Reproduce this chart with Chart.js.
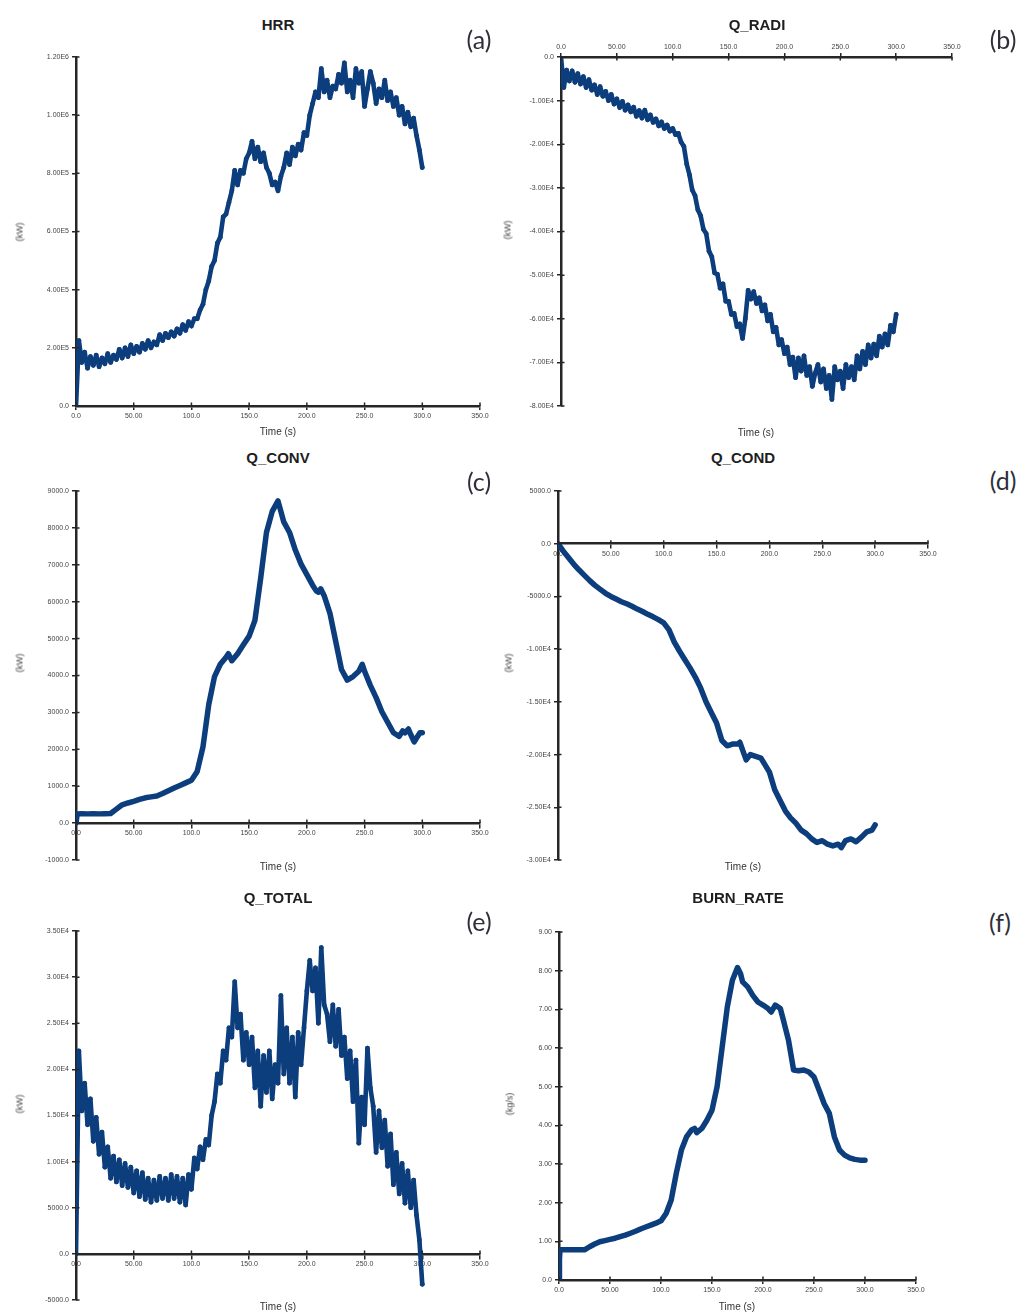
<!DOCTYPE html>
<html>
<head>
<meta charset="utf-8">
<title>Fire simulation outputs</title>
<script src="https://cdn.jsdelivr.net/npm/chart.js@4.4.1/dist/chart.umd.min.js"></script>
<style>
  html, body { margin: 0; padding: 0; background: #fff; }
  #sheet { position: relative; width: 1035px; height: 1313px; overflow: hidden; background: #fff;
           font-family: "Liberation Sans", Arial, sans-serif; }
  #sheet canvas { position: absolute; }
  .lbl { position: absolute; transform: translate(-50%, -50%); white-space: nowrap; line-height: 1; }
  .ttl { font-weight: bold; font-size: 15px; color: #1e1e1e; }
  .tag { font-family: Lato, "Open Sans", sans-serif; font-size: 25px; color: #2f2f3a; }
  .unit { font-size: 9px; color: #444; transform: translate(-50%, -50%) rotate(-90deg); }
  .xt { font-size: 10px; color: #333; }
</style>
</head>
<body>
<div id="sheet"></div>
<script>
// ---- sampled series (time in s) ----
const sampleTime = [0,2.5,5,7.5,10,12.5,15,17.5,20,22.5,25,27.5,30,32.5,35,37.5,40,42.5,45,47.5,
  50,52.5,55,57.5,60,62.5,65,67.5,70,72.5,75,77.5,80,82.5,85,87.5,90,92.5,95,97.5,
  100,102.5,105,107.5,110,112.5,115,117.5,120,122.5,125,127.5,130,132.5,135,137.5,140,142.5,145,147.5,
  150,152.5,155,157.5,160,162.5,165,167.5,170,172.5,175,177.5,180,182.5,185,187.5,190,192.5,195,197.5,
  200,202.5,205,207.5,210,212.5,215,217.5,220,222.5,225,227.5,230,232.5,235,237.5,240,242.5,245,247.5,
  250,252.5,255,257.5,260,262.5,265,267.5,270,272.5,275,277.5,280,282.5,285,287.5,290,292.5,295,297.5,300];

const hrrValues = [0,225000,150000,185000,130000,170000,140000,175000,135000,165000,
  145000,180000,150000,175000,160000,195000,165000,200000,170000,210000,
  180000,205000,185000,215000,195000,225000,200000,220000,210000,245000,
  225000,250000,235000,255000,240000,265000,250000,280000,260000,290000,
  275000,300000,300000,330000,350000,400000,430000,480000,500000,560000,
  580000,650000,660000,700000,740000,810000,760000,810000,800000,850000,
  870000,910000,850000,890000,840000,870000,820000,800000,760000,770000,
  740000,790000,820000,870000,830000,890000,860000,900000,880000,940000,
  930000,1000000,1040000,1080000,1060000,1160000,1080000,1120000,1060000,1100000,
  1090000,1140000,1110000,1180000,1080000,1120000,1060000,1160000,1110000,1150000,
  1030000,1090000,1150000,1110000,1040000,1090000,1060000,1120000,1050000,1080000,
  1030000,1060000,1000000,1030000,970000,1010000,960000,990000,930000,880000,
  820000];

const radiValues = [0,-7000,-3000,-5500,-3200,-5800,-3800,-6200,-4500,-7000,
  -5200,-7600,-6400,-8600,-6800,-9000,-7900,-10000,-8600,-10800,
  -9600,-11600,-10200,-12200,-11000,-12600,-11500,-13600,-12300,-14000,
  -12200,-14400,-13300,-15000,-14200,-15800,-14900,-16400,-15600,-17000,
  -16400,-17800,-17500,-19500,-20500,-24500,-27000,-30500,-31800,-35000,
  -36400,-39500,-40500,-44500,-45800,-49500,-49800,-53000,-52000,-56000,
  -56000,-59000,-58800,-61800,-61200,-64500,-60000,-53500,-55500,-53800,
  -56500,-55200,-58200,-56800,-60500,-59000,-63000,-62000,-66000,-64800,
  -68000,-66500,-70500,-68800,-73500,-69000,-72000,-68500,-73000,-71000,
  -75500,-72500,-70500,-74500,-71500,-76000,-73000,-78500,-71000,-74000,
  -72000,-76000,-70500,-73500,-71000,-74000,-68500,-71500,-67500,-70500,
  -66000,-69000,-65800,-68500,-64000,-66500,-63500,-66000,-61500,-63000,
  -59000];

const totalValues = [0,22000,15500,18500,14000,16800,12200,14800,10800,13200,
  9400,11600,8200,10600,7800,10200,7400,9800,7200,9400,
  6600,9000,6200,8800,5900,8200,5600,8000,5800,8400,
  6000,8200,5800,8600,6000,8400,5600,8200,5300,8600,
  7000,10400,9200,11600,10200,12400,11800,15000,16500,19500,
  18500,22000,21000,24500,23500,29500,24500,26000,21000,24000,
  20500,23500,18000,22000,16000,21500,17500,22000,16800,20500,
  18500,28000,19500,24500,18500,23500,17000,24000,20500,24500,
  28500,31800,28500,31000,25000,33200,27000,26000,23000,27000,
  22500,26500,21500,23500,19000,22000,16500,21000,12000,17000,
  14000,22300,18000,16000,11000,15500,11500,14500,9500,13000,
  7500,11000,6500,9800,5500,9000,5000,8000,4200,1500,
  -3300];

const convTime = [0,1,5,10,15,20,25,30,35,40,45,50,55,60,65,70,75,80,85,90,95,100,105,110,115,120,125,130,
  132,135,140,145,150,155,160,165,170,175,180,185,190,195,200,205,208,210,212,
  215,220,225,230,235,240,245,248,250,255,260,265,270,275,280,283,285,288,290,293,295,298,300];
const convValues = [0,250,255,250,255,250,255,260,380,495,545,590,640,686,710,733,800,876,950,1019,1090,1162,1400,2067,3210,3971,4305,4495,
  4590,4400,4590,4830,5067,5495,6638,7876,8448,8733,8162,7876,7400,7019,6733,6448,6300,6257,6350,
  6162,5686,4924,4162,3876,3971,4114,4305,4114,3733,3400,3019,2733,2448,2352,2500,2448,2550,2400,2200,2305,2450,2448];

const condTime = [0,5,10,15,20,25,30,35,40,45,50,55,60,65,70,75,80,85,90,95,100,105,110,115,120,125,130,135,140,145,150,155,160,165,170,
  172,175,178,182,187,192,197,200,205,210,215,220,225,230,235,240,245,250,255,260,265,
  268,272,277,282,287,292,297,300];
const condValues = [0,-700,-1333,-1950,-2500,-3000,-3500,-3950,-4333,-4700,-5000,-5250,-5500,-5700,-5933,-6200,-6433,-6700,-6933,-7200,-7500,
  -8167,-9333,-10200,-11000,-11800,-12667,-13700,-15000,-16000,-17000,-18667,-19167,-19000,-19000,
  -18833,-19667,-20500,-20000,-20167,-20333,-21167,-21667,-23333,-24333,-25333,-26000,-26500,-27167,-27500,-28000,-28333,-28167,-28500,-28667,-28500,
  -28833,-28167,-28000,-28267,-27833,-27333,-27167,-26667];

const burnTime = [0,0.3,0.6,1,5,10,15,20,25,30,35,40,45,50,55,60,65,70,75,80,85,90,95,100,105,110,115,120,125,130,
  133,135,140,145,150,155,160,165,170,175,178,180,185,190,195,200,205,208,212,217,
  220,225,230,235,240,245,250,255,260,265,270,275,280,285,290,295,300];
const burnValues = [0,0.3,0.55,0.78,0.78,0.78,0.78,0.78,0.78,0.86,0.93,0.99,1.02,1.05,1.08,1.12,1.16,1.21,1.26,1.32,1.37,1.42,1.47,1.53,1.72,2.07,2.76,3.36,3.70,3.88,
  3.92,3.81,3.92,4.13,4.39,5.0,6.03,7.06,7.75,8.08,7.92,7.71,7.58,7.36,7.19,7.11,7.02,6.93,7.11,7.02,
  6.72,6.20,5.43,5.41,5.43,5.38,5.25,4.91,4.56,4.31,3.70,3.36,3.23,3.16,3.12,3.10,3.10];

// ---- axis ticks ----
const timeTickValues = [0,50,100,150,200,250,300,350];
const timeTickLabels = ['0.0','50.00','100.0','150.0','200.0','250.0','300.0','350.0'];

const hrrTickValues = [0,200000,400000,600000,800000,1000000,1200000];
const hrrTickLabels = ['0.0','2.00E5','4.00E5','6.00E5','8.00E5','1.00E6','1.20E6'];
const radiTickValues = [-80000,-70000,-60000,-50000,-40000,-30000,-20000,-10000,0];
const radiTickLabels = ['-8.00E4','-7.00E4','-6.00E4','-5.00E4','-4.00E4','-3.00E4','-2.00E4','-1.00E4','0.0'];
const convTickValues = [-1000,0,1000,2000,3000,4000,5000,6000,7000,8000,9000];
const convTickLabels = ['-1000.0','0.0','1000.0','2000.0','3000.0','4000.0','5000.0','6000.0','7000.0','8000.0','9000.0'];
const condTickValues = [-30000,-25000,-20000,-15000,-10000,-5000,0,5000];
const condTickLabels = ['-3.00E4','-2.50E4','-2.00E4','-1.50E4','-1.00E4','-5000.0','0.0','5000.0'];
const totalTickValues = [-5000,0,5000,10000,15000,20000,25000,30000,35000];
const totalTickLabels = ['-5000.0','0.0','5000.0','1.00E4','1.50E4','2.00E4','2.50E4','3.00E4','3.50E4'];
const burnTickValues = [0,1,2,3,4,5,6,7,8,9];
const burnTickLabels = ['0.0','1.00','2.00','3.00','4.00','5.00','6.00','7.00','8.00','9.00'];

// ---- look ----
const LINE = '#0c3d7c';
const AXIS = '#262626';
const TICK_TEXT = '#444';
const FONT = '"Liberation Sans", Arial, sans-serif';
const YW = 60, XH = 20, PAD = 12;

// panel layout: plot rectangle [left, top, right, bottom] and text anchors
const panels = [
  { title: 'HRR', tag: '(a)', unit: '(kW)', t: sampleTime, v: hrrValues, noisy: true,
    yt: hrrTickValues, yl: hrrTickLabels, xPos: 'bottom',
    area: [76, 57, 480, 406], titleAt: [278, 24], tagAt: [479, 39], unitAt: [20, 232], timeAt: [278, 432] },
  { title: 'Q_RADI', tag: '(b)', unit: '(kW)', t: sampleTime, v: radiValues, noisy: true,
    yt: radiTickValues, yl: radiTickLabels, xPos: 'top',
    area: [561, 57, 952, 406], titleAt: [757, 24], tagAt: [1003, 39], unitAt: [508, 230], timeAt: [756, 433] },
  { title: 'Q_CONV', tag: '(c)', unit: '(kW)', t: convTime, v: convValues, noisy: false,
    yt: convTickValues, yl: convTickLabels, xPos: { y: 0 },
    area: [76, 491, 480, 840], titleAt: [278, 457], tagAt: [479, 481], unitAt: [20, 663], timeAt: [278, 867] },
  { title: 'Q_COND', tag: '(d)', unit: '(kW)', t: condTime, v: condValues, noisy: false,
    yt: condTickValues, yl: condTickLabels, xPos: { y: 0 },
    area: [558, 491, 928, 840], titleAt: [743, 457], tagAt: [1003, 480], unitAt: [509, 663], timeAt: [743, 867] },
  { title: 'Q_TOTAL', tag: '(e)', unit: '(kW)', t: sampleTime, v: totalValues, noisy: true,
    yt: totalTickValues, yl: totalTickLabels, xPos: { y: 0 },
    area: [76, 931, 480, 1280], titleAt: [278, 897], tagAt: [479, 921], unitAt: [20, 1104], timeAt: [278, 1307] },
  { title: 'BURN_RATE', tag: '(f)', unit: '(kg/s)', t: burnTime, v: burnValues, noisy: false,
    yt: burnTickValues, yl: burnTickLabels, xPos: 'bottom',
    area: [559, 932, 916, 1280], titleAt: [738, 897], tagAt: [1000, 922], unitAt: [510, 1104], timeAt: [737, 1307] }
];

// short tick stubs on the inner side of each axis, so ticks cross the axis line
const tickStubs = {
  id: 'tickStubs',
  afterDraw(chart) {
    const { ctx, chartArea } = chart;
    const x = chart.scales.x, y = chart.scales.y;
    const pos = x.options.position;
    let axisY = chartArea.bottom, dir = -1;
    if (pos === 'top') { axisY = chartArea.top; dir = 1; }
    else if (typeof pos === 'object') { axisY = y.getPixelForValue(pos.y); }
    ctx.save();
    ctx.strokeStyle = AXIS;
    ctx.lineWidth = 1.5;
    ctx.beginPath();
    x.ticks.forEach(t => {
      const px = x.getPixelForValue(t.value);
      ctx.moveTo(px, axisY);
      ctx.lineTo(px, axisY + dir * 3.5);
    });
    y.ticks.forEach(t => {
      const py = y.getPixelForValue(t.value);
      ctx.moveTo(chartArea.left, py);
      ctx.lineTo(chartArea.left + 3.5, py);
    });
    ctx.stroke();
    ctx.restore();
  }
};

const sheet = document.getElementById('sheet');

function addText(cls, text, at) {
  const d = document.createElement('div');
  d.className = 'lbl ' + cls;
  d.textContent = text;
  d.style.left = at[0] + 'px';
  d.style.top = at[1] + 'px';
  sheet.appendChild(d);
}

panels.forEach(p => {
  const [L, T, R, B] = p.area;
  const w = (R - L) + YW + 2 * PAD;
  const h = (B - T) + XH + 2 * PAD;
  const top = p.xPos === 'top' ? T - XH - PAD : T - PAD;
  const cv = document.createElement('canvas');
  cv.width = w; cv.height = h;
  cv.style.left = (L - YW - PAD) + 'px';
  cv.style.top = top + 'px';
  cv.style.width = w + 'px';
  cv.style.height = h + 'px';
  sheet.appendChild(cv);

  const tickFont = { family: FONT, size: 7 };
  new Chart(cv, {
    type: 'line',
    data: {
      datasets: [{
        data: p.t.map((t, i) => ({ x: t, y: p.v[i] })),
        borderColor: LINE,
        backgroundColor: LINE,
        pointBackgroundColor: LINE,
        borderWidth: p.noisy ? 4.6 : 5.5,
        pointRadius: p.noisy ? 2.4 : 0,
        pointBorderWidth: 0,
        tension: 0,
        borderJoinStyle: 'round',
        borderCapStyle: 'round',
        fill: false
      }]
    },
    options: {
      responsive: false,
      animation: false,
      devicePixelRatio: 1,
      layout: { padding: PAD },
      events: [],
      plugins: { legend: { display: false }, tooltip: { enabled: false } },
      scales: {
        x: {
          type: 'linear',
          position: p.xPos,
          min: 0, max: 350,
          afterFit: s => { s.height = XH; },
          afterBuildTicks: s => { s.ticks = timeTickValues.map(v => ({ value: v })); },
          ticks: { callback: (v, i) => timeTickLabels[i], font: tickFont, color: TICK_TEXT,
                   padding: 2, maxRotation: 0, autoSkip: false },
          grid: { drawOnChartArea: false, drawTicks: true, tickLength: 4, color: AXIS, lineWidth: 1.5 },
          border: { display: true, color: AXIS, width: 2.5 }
        },
        y: {
          type: 'linear',
          position: 'left',
          min: p.yt[0], max: p.yt[p.yt.length - 1],
          afterFit: s => { s.width = YW; },
          afterBuildTicks: s => { s.ticks = p.yt.map(v => ({ value: v })); },
          ticks: { callback: (v, i) => p.yl[i], font: tickFont, color: TICK_TEXT, padding: 3, autoSkip: false },
          grid: { drawOnChartArea: false, drawTicks: true, tickLength: 4, color: AXIS, lineWidth: 1.5 },
          border: { display: true, color: AXIS, width: 2.5 }
        }
      }
    },
    plugins: [tickStubs]
  });

  addText('ttl', p.title, p.titleAt);
  addText('tag', p.tag, p.tagAt);
  addText('unit', p.unit, p.unitAt);
  addText('xt', 'Time (s)', p.timeAt);
});
</script>
</body>
</html>
